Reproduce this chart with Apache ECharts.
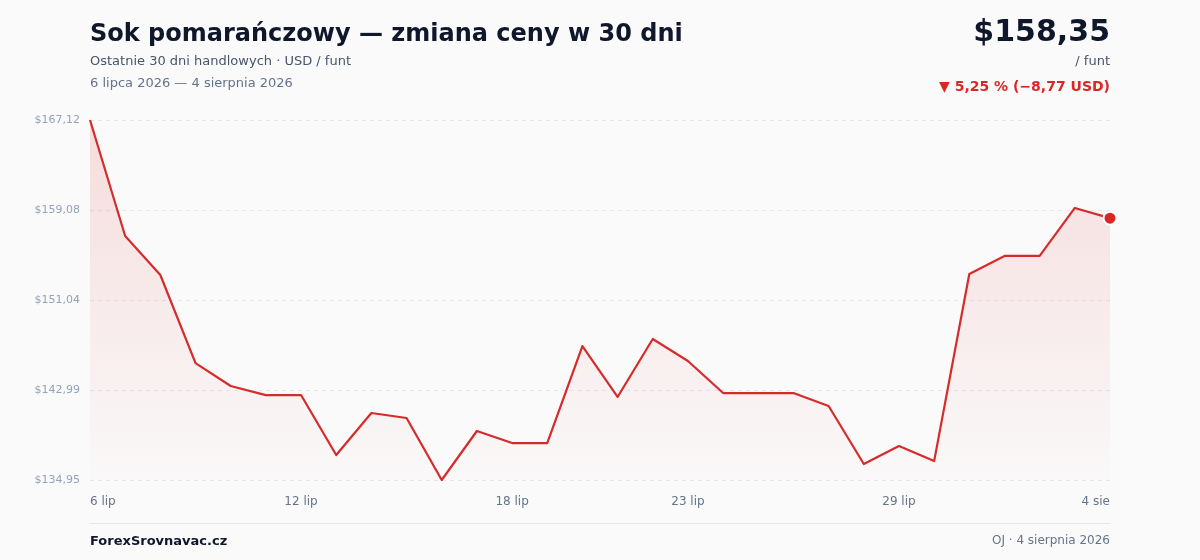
<!DOCTYPE html>
<html>
<head>
<meta charset="utf-8">
<script src="https://cdn.jsdelivr.net/npm/echarts@6/dist/echarts.min.js"></script>
<style>
html,body{margin:0;padding:0;background:#fafafa;}
#c{width:1200px;height:560px;}
</style>
</head>
<body>
<div id="c"></div>
<script>
const categories = ['6 lip','7 lip','8 lip','9 lip','10 lip','11 lip','12 lip','13 lip','14 lip','15 lip','16 lip','17 lip','18 lip','19 lip','20 lip','21 lip','22 lip','23 lip','24 lip','25 lip','26 lip','27 lip','28 lip','29 lip','30 lip','31 lip','1 sie','2 sie','3 sie','4 sie'];
const prices = [167.12,156.75,153.27,145.40,143.35,142.54,142.54,137.18,140.94,140.49,134.95,139.33,138.25,138.25,146.92,142.37,147.55,145.58,142.72,142.72,142.72,141.56,136.38,137.99,136.64,153.36,154.97,154.97,159.26,158.35];
const xLabelIdx = [0,6,12,17,23,29];
const yTickLabels = ['$134,95','$142,99','$151,04','$159,08','$167,12'];
const yMin = 134.95, yMax = 167.12;

const font = 'DejaVu Sans';
const chart = echarts.init(document.getElementById('c'));
const seriesData = prices.map((v,i)=> i===prices.length-1 ? {value:v, symbol:'circle', symbolSize:13, itemStyle:{color:'#dc2626', borderColor:'#ffffff', borderWidth:2}} : v);

function t(text, pos, size, weight, color){
  return Object.assign({text:text, padding:0, textStyle:{fontFamily:font,fontSize:size,fontWeight:weight,color:color}}, pos);
}

chart.setOption({
  backgroundColor:'#fafafa',
  textStyle:{fontFamily:font},
  animation:false,
  grid:{left:90,right:90,top:120,bottom:80},
  title:[
    t('Sok pomarańczowy — zmiana ceny w 30 dni', {left:90, top:23}, 24, 'bold', '#0f172a'),
    t('Ostatnie 30 dni handlowych · USD / funt', {left:90, top:55}, 13, 'normal', '#475569'),
    t('6 lipca 2026 — 4 sierpnia 2026', {left:90, top:77}, 13, 'normal', '#64748b'),
    t('$158,35', {right:90, top:18}, 30, 'bold', '#0f172a'),
    t('/ funt', {right:90, top:55}, 13, 'normal', '#475569'),
    t('▼ 5,25 % (−8,77 USD)', {right:90, top:80}, 14, 'bold', '#dc2626'),
    t('ForexSrovnavac.cz', {left:90, top:535}, 13, 'bold', '#0f172a'),
    t('OJ · 4 sierpnia 2026', {right:90, top:535}, 12, 'normal', '#64748b')
  ],
  graphic:[
    {type:'line', shape:{x1:90,y1:523.5,x2:1110,y2:523.5}, style:{stroke:'#e5e7eb',lineWidth:1}}
  ],
  xAxis:{
    type:'category', data:categories, boundaryGap:false,
    axisLine:{show:false}, axisTick:{show:false},
    axisLabel:{
      fontFamily:font, fontSize:12, color:'#64748b', margin:16,
      interval:(i)=>xLabelIdx.indexOf(i)>=0,
      alignMinLabel:'left', alignMaxLabel:'right'
    },
    splitLine:{show:false}
  },
  yAxis:{
    type:'value', min:yMin, max:yMax, interval:(yMax-yMin)/4,
    axisLine:{show:false}, axisTick:{show:false},
    axisLabel:{fontFamily:font, fontSize:11, color:'#94a3b8', margin:10, formatter:(v,i)=>yTickLabels[i]},
    splitLine:{lineStyle:{color:'#e6e8ec', type:[4,4], width:1}}
  },
  series:[{
    type:'line', data:seriesData, symbol:'none', smooth:false,
    lineStyle:{color:'#d62b2b', width:2.2, join:'round'},
    itemStyle:{color:'#dc2626'},
    areaStyle:{color:new echarts.graphic.LinearGradient(0,0,0,1,[{offset:0,color:'rgba(220,38,38,0.2)'},{offset:1,color:'rgba(220,38,38,0.01)'}])}
  }]
});
</script>
</body>
</html>
